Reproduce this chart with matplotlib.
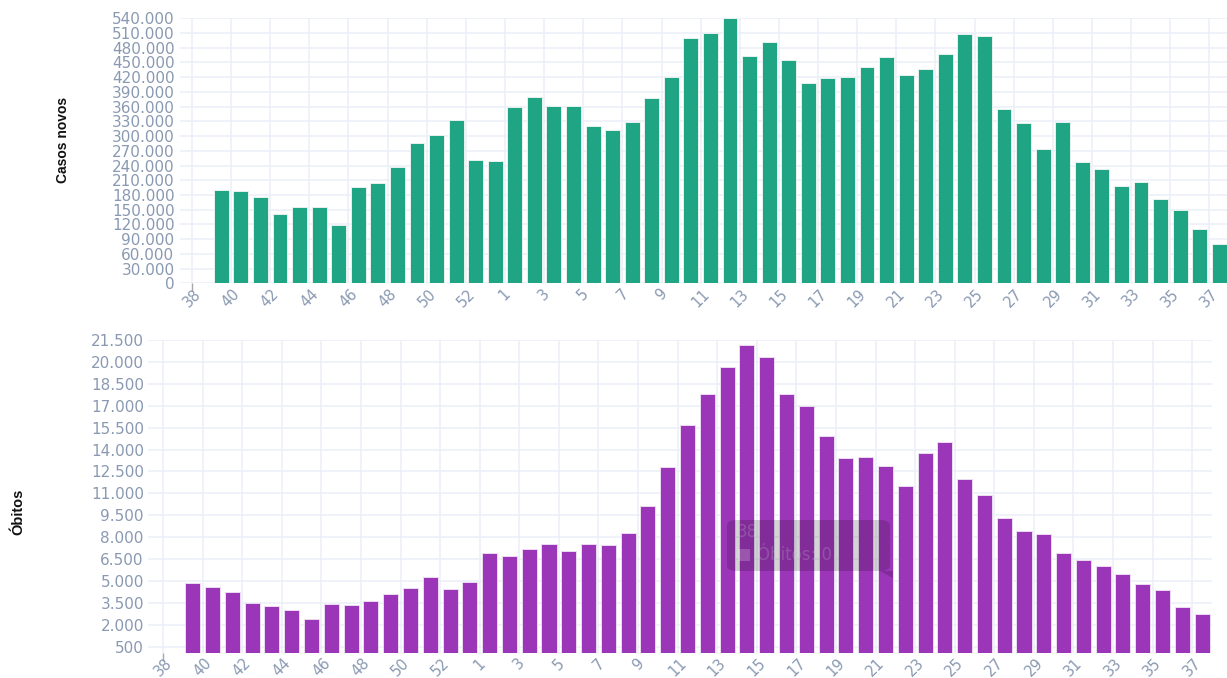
import matplotlib
matplotlib.use("Agg")
import matplotlib.pyplot as plt
import numpy as np
from matplotlib.patches import FancyBboxPatch, Rectangle, Polygon

# ---------------- data ----------------
weeks = list(range(38, 54)) + list(range(1, 38))

casos = [None,
         190100, 188800, 175900, 141900, 156100, 154900, 118200, 195600,
         203800, 237600, 286500, 302900, 333500, 252000, 250000,
         359300, 379000, 361300, 360700, 321300, 311800, 329400, 378300,
         421100, 500600, 510800, 540000, 463200, 491800, 455100, 408800,
         417800, 419800, 440800, 460600, 423900, 436100, 468000, 508700,
         503400, 354600, 326700, 273100, 328100, 247200, 233600, 198300,
         205800, 171800, 149400, 110700, 79500]

obitos = [None,
          4880, 4610, 4250, 3510, 3270, 3010, 2420, 3420,
          3360, 3610, 4090, 4540, 5250, 4470, 4950,
          6920, 6690, 7170, 7510, 7080, 7530, 7470, 8270,
          10120, 12810, 15660, 17830, 19660, 21160, 20360, 17830,
          16970, 14910, 13420, 13510, 12880, 11510, 13770, 14540,
          11970, 10870, 9340, 8400, 8200, 6940, 6420, 6050,
          5460, 4820, 4380, 3220, 2720]

casos_ticks = list(range(0, 540001, 30000))
obitos_ticks = list(range(500, 21501, 1500))

# ---------------- style ----------------
GREEN = "#1fa584"
PURPLE = "#9c36b9"
GRID = "#ebf0f8"
TICKC = "#8a99b2"

W, H = 1227, 678
fig = plt.figure(figsize=(W / 100, H / 100), dpi=100)


def fmt(v):
    return f"{int(round(v)):,}".replace(",", ".")


def setup(ax, ticks, xlim, ylim, ypad):
    n = len(weeks)
    xt = np.arange(0, n, 2)
    ax.set_xticks(xt)
    ax.set_xticklabels([str(weeks[i]) for i in xt], rotation=45,
                       ha="center", va="top", color=TICKC, fontsize=10.5,
                       family="DejaVu Sans")
    ax.set_yticks(ticks)
    ax.set_yticklabels([fmt(t) for t in ticks], color=TICKC, fontsize=11,
                       family="DejaVu Sans")
    ax.set_xlim(*xlim)
    ax.set_ylim(*ylim)
    ax.grid(True, color=GRID, linewidth=1.1, zorder=0)
    ax.set_axisbelow(True)
    for s in ax.spines.values():
        s.set_visible(False)
    ax.tick_params(axis="y", length=0, pad=ypad)
    ax.tick_params(axis="x", length=0, pad=2)
    t0 = ax.xaxis.get_major_ticks()[0]
    t0.tick1line.set_markersize(6)
    t0.tick1line.set_markeredgecolor("#a8a8a8")
    t0.tick1line.set_markeredgewidth(1.0)


def bars(ax, vals, color, edge):
    xs = [i + 0.5 for i, v in enumerate(vals) if v is not None]
    hs = [v for v in vals if v is not None]
    ax.bar(xs, hs, width=0.76, color=color, edgecolor=edge,
           linewidth=0.7, zorder=2)


# top axes
ax1 = fig.add_axes([180 / W, 1 - 283.3 / H, (1229 - 180) / W, (283.3 - 18.3) / H])
setup(ax1, casos_ticks, (-0.61, 53.0), (0, 540000), 4)
bars(ax1, casos, GREEN, "#e6f2ee")
ax1.set_ylabel("Casos novos", fontsize=10, fontweight="bold",
               family=["Liberation Sans", "DejaVu Sans"], color="#111111")
ax1.yaxis.set_label_coords((70 - 180) / (1229 - 180), 0.54)

# bottom axes
ax2 = fig.add_axes([148 / W, 1 - 652.7 / H, (1212 - 148) / W, (652.7 - 340) / H])
setup(ax2, obitos_ticks, (-0.76, 53.0), (89, 21500), 3)
bars(ax2, obitos, PURPLE, "#eadcf2")
ax2.set_ylabel("Óbitos", fontsize=10.5, fontweight="bold",
               family=["Liberation Sans", "DejaVu Sans"], color="#111111")
ax2.yaxis.set_label_coords((25 - 148) / (1212 - 148), 0.45)


# faded hover tooltip (as in the screenshot)
def fx(px):
    return px / W


def fy(py):
    return 1 - py / H


box = FancyBboxPatch((fx(727), fy(571)), fx(890) - fx(727), fy(520) - fy(571),
                     boxstyle="round,pad=0,rounding_size=0.008",
                     transform=fig.transFigure, facecolor="black", alpha=0.17,
                     edgecolor="none", zorder=10)
fig.patches.append(box)
tri = Polygon([[fx(880), fy(571)], [fx(893), fy(571)], [fx(893), fy(578)]],
              closed=True, transform=fig.transFigure, facecolor="black",
              alpha=0.17, edgecolor="none", zorder=10)
fig.patches.append(tri)
sq = Rectangle((fx(738), fy(561)), 12 / W, 12 / H,
               transform=fig.transFigure, facecolor="white", alpha=0.2,
               edgecolor="none", zorder=11)
fig.patches.append(sq)
fig.text(fx(737), fy(532), "38", color="white", alpha=0.22, fontsize=12,
         va="center", ha="left", family="DejaVu Sans")
fig.text(fx(757), fy(555), "Óbitos: 0", color="white", alpha=0.22, fontsize=12,
         va="center", ha="left", family="DejaVu Sans")

fig.savefig("out.png", dpi=100)
